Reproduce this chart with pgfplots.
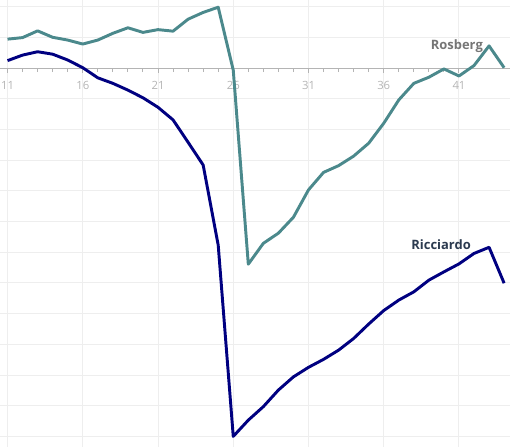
\documentclass[border=0pt]{standalone}
\usepackage{pgfplots}
\pgfplotsset{compat=1.18}
\usepackage{fontspec}
\setmainfont{Open Sans}
\definecolor{teal1}{HTML}{4B898C}
\definecolor{navy1}{HTML}{000080}
\definecolor{gridc}{HTML}{EEEEEE}
\definecolor{tickc}{HTML}{B4B4B4}
\definecolor{rosc}{HTML}{767676}
\definecolor{ricc}{HTML}{2B3A4F}
\begin{document}
\begin{tikzpicture}
\begin{axis}[
  scale only axis,
  width=382.5pt, height=335.25pt,
  xmin=10.5, xmax=44.39,
  ymin=-12.345, ymax=2.215,
  axis x line*=middle,
  axis y line*=left,
  y axis line style={draw=none},
  x axis line style={draw=tickc, line width=0.75pt, -},
  xtick={11,16,21,26,31,36,41},
  minor x tick num=4,
  xtick align=outside,
  major tick length=3.5pt,
  minor tick length=3pt,
  x tick style={draw=tickc, line width=0.75pt},
  ytick={-12,-11,...,2},
  y tick style={draw=none},
  yticklabels={},
  xticklabel style={font=\fontsize{8.5}{10}\selectfont, text=tickc, yshift=-3pt},
  /pgf/number format/assume math mode=true,
  xmajorgrids=true, ymajorgrids=true,
  major grid style={draw=gridc, line width=0.75pt},
  clip=true,
]
\coordinate (sw) at (rel axis cs:0,0);
\coordinate (ne) at (rel axis cs:1,1);
\addplot[teal1, line width=2.2pt, line join=round] coordinates {
(11,0.94) (12,0.99) (13,1.21) (14,1.00) (15,0.91) (16,0.78) (17,0.91) (18,1.13)
(19,1.31) (20,1.16) (21,1.25) (22,1.20) (23,1.59) (24,1.81) (25,1.98) (26,-0.07)
(27,-6.39) (28,-5.71) (29,-5.38) (30,-4.86) (31,-3.97) (32,-3.40) (33,-3.18)
(34,-2.87) (35,-2.45) (36,-1.80) (37,-1.04) (38,-0.50) (39,-0.30) (40,-0.03)
(41,-0.26) (42,0.08) (43,0.72) (44,0.01)
};
\addplot[navy1, line width=2.2pt, line join=round] coordinates {
(11,0.24) (12,0.42) (13,0.53) (14,0.45) (15,0.26) (16,0.01) (17,-0.32) (18,-0.50)
(19,-0.72) (20,-0.97) (21,-1.28) (22,-1.69) (23,-2.42) (24,-3.16) (25,-5.77)
(26,-12.0) (27,-11.47) (28,-11.03) (29,-10.49) (30,-10.06) (31,-9.75) (32,-9.49)
(33,-9.19) (34,-8.81) (35,-8.34) (36,-7.90) (37,-7.56) (38,-7.29) (39,-6.91)
(40,-6.64) (41,-6.38) (42,-6.04) (43,-5.84) (44,-7.01)
};
\node[anchor=east, text=rosc, font=\bfseries\fontsize{9.7}{11}\selectfont, inner sep=0pt] at (axis cs:42.6,0.72) {Rosberg};
\node[anchor=east, text=ricc, font=\bfseries\fontsize{9.7}{11}\selectfont, inner sep=0pt] at (axis cs:41.8,-5.77) {Ricciardo};
\end{axis}
\pgfresetboundingbox
\useasboundingbox (sw) rectangle (ne);
\end{tikzpicture}
\end{document}
